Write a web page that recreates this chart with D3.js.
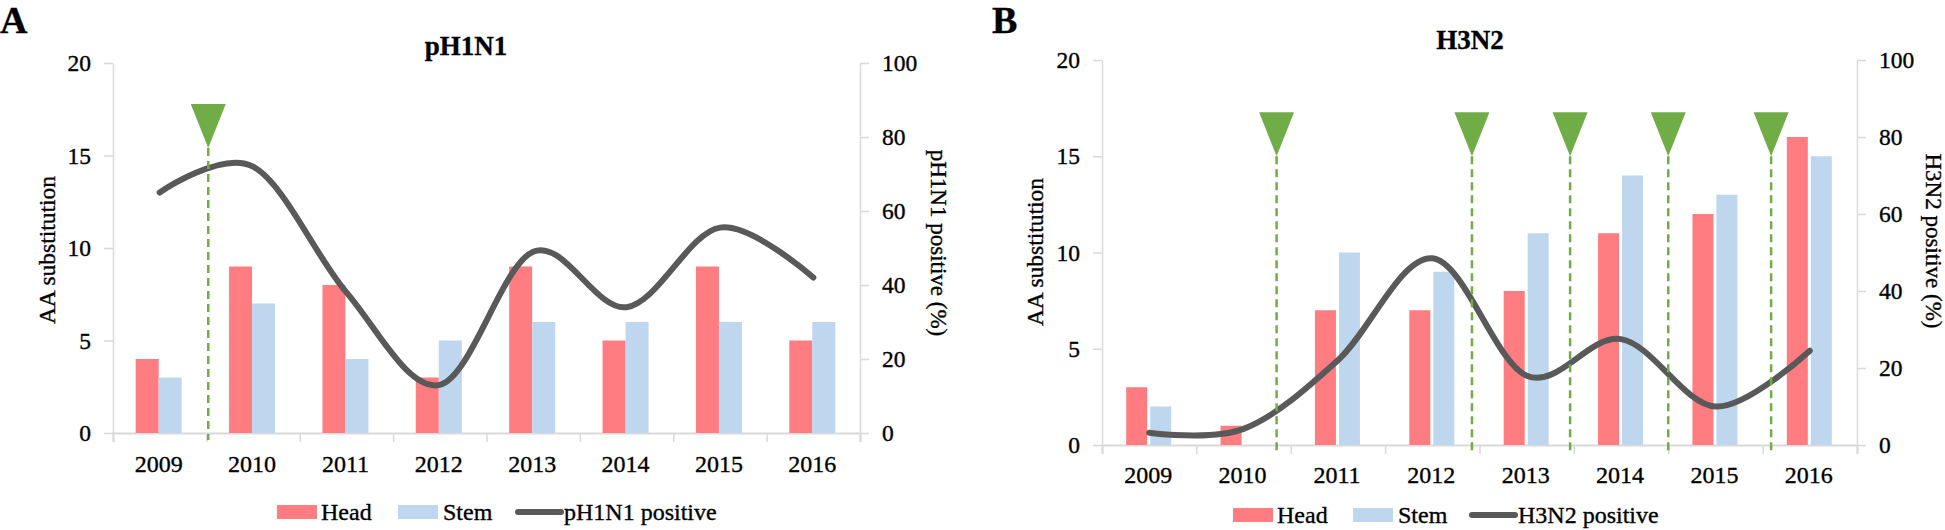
<!DOCTYPE html>
<html><head><meta charset="utf-8">
<script src="https://cdn.jsdelivr.net/npm/d3@7"></script>
<style>
body{margin:0;background:#fff}
</style>
</head><body>
<svg id="chart" width="1945" height="530"></svg>
<script>
// ---------- data ----------
const years = ["2009","2010","2011","2012","2013","2014","2015","2016"];
const leftTicks = [0,5,10,15,20];
const rightTicks = [0,20,40,60,80,100];
const seriesNames = ["Head","Stem"];

const headA = [4,9,8,3,9,5,9,5];
const stemA = [3,7,4,5,6,6,6,6];
const positiveA = [65,72,38,13,49,34,55.5,42];
const markersA = [1.02];          // position in category units from left edge
const markerTipA = 15.4;          // left-axis value of triangle tip

const headB = [3,1,7,7,8,11,12,16];
const stemB = [2,0,10,9,11,14,13,15];
const positiveB = [3.2,4.2,22,48.5,18,27.5,10,24.5];
const markersB = [1.85,3.92,4.96,6.0,7.09];
const markerTipB = 15.0;

// ---------- drawing ----------
const FONT = "'Liberation Serif'";
const svg = d3.select("#chart");
const C = {head:"#FF7C80", stem:"#BED6EE", line:"#595959", green:"#70AD47", axis:"#D9D9D9"};

function txt(sel, size){
  return sel.style("font-family",FONT).style("font-size",size+"px")
    .attr("fill","#000").attr("stroke","#000").attr("stroke-width",0.35);
}

function panel(p){
  const g = svg.append("g");
  const x = d3.scaleBand().domain(years).range([p.left,p.right]).padding(0);
  const xc = d3.scaleLinear().domain([0,years.length]).range([p.left,p.right]);
  const yL = d3.scaleLinear().domain([0,20]).range([p.bottom,p.top]);
  const yR = d3.scaleLinear().domain([0,100]).range([p.bottom,p.top]);
  const cx = d => x(d)+x.bandwidth()/2;

  const la = g.append("g").attr("transform",`translate(${p.left},0)`)
    .call(d3.axisLeft(yL).tickValues(leftTicks).tickSize(9).tickPadding(13).tickSizeOuter(0));
  const ra = g.append("g").attr("transform",`translate(${p.right},0)`)
    .call(d3.axisRight(yR).tickValues(rightTicks).tickSize(9).tickPadding(13).tickSizeOuter(0));
  [la,ra].forEach(a=>{
    a.attr("font-family",null).attr("font-size",null);
    a.select(".domain").attr("stroke",C.axis).attr("stroke-width",1.5);
    a.selectAll(".tick line").attr("stroke",C.axis).attr("stroke-width",1.5);
    txt(a.selectAll(".tick text"),23.5);
  });
  const ba = g.append("g").attr("transform",`translate(0,${p.bottom})`)
    .call(d3.axisBottom(xc).tickValues(d3.range(0,years.length+1)).tickSize(9).tickFormat(""));
  ba.select(".domain").attr("stroke",C.axis).attr("stroke-width",2);
  ba.selectAll(".tick line").attr("stroke",C.axis).attr("stroke-width",1.5);
  txt(g.append("g").selectAll("text").data(years).join("text")
    .attr("x",d=>cx(d)-1).attr("y",p.xLabelY).attr("text-anchor","middle").text(d=>d),24);

  g.append("g").selectAll("rect").data(years).join("rect")
    .attr("x",d=>cx(d)+p.headOff).attr("width",p.barW)
    .attr("y",(d,i)=>yL(p.head[i])).attr("height",(d,i)=>yL(0)-yL(p.head[i]))
    .attr("fill",C.head);
  g.append("g").selectAll("rect").data(years).join("rect")
    .attr("x",d=>cx(d)+p.stemOff).attr("width",p.barW)
    .attr("y",(d,i)=>yL(p.stem[i])).attr("height",(d,i)=>yL(0)-yL(p.stem[i]))
    .attr("fill",C.stem);

  const line = d3.line().x((d,i)=>cx(years[i])).y(d=>yR(d)).curve(d3.curveCardinal.tension(0));
  g.append("path").datum(p.pos).attr("d",line).attr("fill","none")
    .attr("stroke",C.line).attr("stroke-width",6).attr("stroke-linecap","round");

  g.append("g").selectAll("line").data(p.markers).join("line")
    .attr("x1",d=>xc(d)).attr("x2",d=>xc(d))
    .attr("y1",yL(p.tip)).attr("y2",p.bottom+7)
    .attr("stroke",C.green).attr("stroke-width",2.5).attr("stroke-dasharray","8,5");
  g.append("g").selectAll("path").data(p.markers).join("path")
    .attr("d",d=>{const X=xc(d),Y=yL(p.tip);return `M${X-17.5},${Y-44}L${X+17.5},${Y-44}L${X},${Y}Z`;})
    .attr("fill",C.green);

  txt(g.append("text").attr("x",p.titleX).attr("y",p.titleY).attr("text-anchor","middle")
    .style("font-weight","bold").text(p.title),27);
  txt(g.append("text").attr("x",p.letterX).attr("y",33)
    .style("font-weight","bold").text(p.letter),38);
  txt(g.append("text").attr("transform",`translate(${p.lTitleX},${p.lTitleY}) rotate(-90)`)
    .attr("text-anchor","middle").text("AA substitution"),23.5);
  txt(g.append("text").attr("transform",`translate(${p.rTitleX},${p.rTitleY}) rotate(90)`)
    .attr("text-anchor","middle").text(p.lineName+" (%)"),23);

  const lg = g.append("g");
  lg.append("rect").attr("x",p.lg.head).attr("y",p.lg.rectY).attr("width",40).attr("height",14).attr("fill",C.head);
  txt(lg.append("text").attr("x",p.lg.head+44).attr("y",p.lg.textY).text(seriesNames[0]),24);
  lg.append("rect").attr("x",p.lg.stem).attr("y",p.lg.rectY).attr("width",40).attr("height",14).attr("fill",C.stem);
  txt(lg.append("text").attr("x",p.lg.stem+45).attr("y",p.lg.textY).text(seriesNames[1]),24);
  lg.append("line").attr("x1",p.lg.line).attr("x2",p.lg.line+43).attr("y1",p.lg.rectY+7).attr("y2",p.lg.rectY+7)
    .attr("stroke",C.line).attr("stroke-width",6).attr("stroke-linecap","round");
  txt(lg.append("text").attr("x",p.lg.line+46).attr("y",p.lg.textY).text(p.lineName),24);
}

panel({left:113,right:860,top:63,bottom:433,head:headA,stem:stemA,pos:positiveA,
  markers:markersA,tip:markerTipA,barW:23,headOff:-24,stemOff:-1,
  title:"pH1N1",titleX:466,titleY:55,letter:"A",letterX:0,
  lTitleX:55,lTitleY:250,rTitleX:931,rTitleY:243,xLabelY:472,lineName:"pH1N1 positive",
  lg:{head:277,stem:398,line:518,rectY:505,textY:520}});

panel({left:1102,right:1857,top:60,bottom:445,head:headB,stem:stemB,pos:positiveB,
  markers:markersB,tip:markerTipB,barW:21,headOff:-23,stemOff:1,
  title:"H3N2",titleX:1470,titleY:49,letter:"B",letterX:992,
  lTitleX:1043,lTitleY:252,rTitleX:1926,rTitleY:241,xLabelY:483,lineName:"H3N2 positive",
  lg:{head:1233,stem:1353,line:1472,rectY:508,textY:523}});
</script>
</body></html>
